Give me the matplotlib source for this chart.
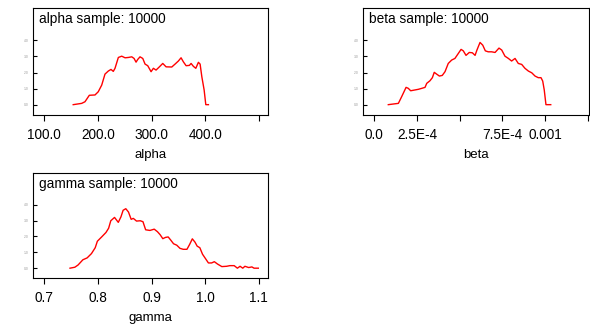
import matplotlib
matplotlib.use("Agg")
import matplotlib.pyplot as plt

plt.rcParams['font.family'] = ['Liberation Sans', 'DejaVu Sans']

# kernel density traces (x value, density in tick units)
alpha_x = [154, 169.8, 175.9, 184, 194.6, 200.7, 207.1, 213.2, 219.4, 224.4,
           228.7, 231.9, 238.1, 244.4, 250.6, 256.7, 263.1, 267.4, 271.1, 274.3,
           278.5, 283.6, 287.9, 292.9, 299.1, 303.4, 308.4, 314.6, 320.9, 327.1,
           337.7, 343.8, 350, 355, 359.3, 364.4, 370.5, 373.7, 378, 382.5,
           387.3, 390.5, 393.7, 398, 401.1, 406]
alpha_y = [0.02, 0.1, 0.2, 0.6, 0.62, 0.82, 1.23, 1.91, 2.1, 2.2,
           2.08, 2.27, 2.94, 3.02, 2.92, 2.94, 2.98, 2.88, 2.65, 2.82,
           2.98, 2.88, 2.53, 2.43, 2.06, 2.27, 2.16, 2.36, 2.57, 2.36,
           2.35, 2.53, 2.72, 2.92, 2.67, 2.43, 2.45, 2.57, 2.39, 2.27,
           2.64, 2.53, 1.75, 0.93, 0.02, 0.02]

beta_x = [8.2e-5, 1.11e-4, 1.41e-4, 1.60e-4, 1.86e-4, 1.99e-4, 2.13e-4, 2.38e-4,
          2.58e-4, 2.78e-4, 2.97e-4, 3.07e-4, 3.26e-4, 3.40e-4, 3.51e-4, 3.65e-4,
          3.81e-4, 3.98e-4, 4.14e-4, 4.33e-4, 4.53e-4, 4.72e-4, 4.92e-4, 5.08e-4,
          5.21e-4, 5.37e-4, 5.56e-4, 5.74e-4, 5.90e-4, 6.01e-4, 6.19e-4, 6.35e-4,
          6.50e-4, 6.67e-4, 6.87e-4, 7.07e-4, 7.30e-4, 7.46e-4, 7.65e-4, 7.85e-4,
          8.04e-4, 8.24e-4, 8.43e-4, 8.63e-4, 8.82e-4, 9.02e-4, 9.22e-4, 9.41e-4,
          9.60e-4, 9.76e-4, 9.86e-4, 9.95e-4, 1.005e-3, 1.033e-3]
beta_y = [0.02, 0.06, 0.1, 0.51, 1.09, 1.03, 0.88, 0.93,
          0.97, 1.03, 1.09, 1.34, 1.5, 1.69, 2.02, 1.91,
          1.79, 1.83, 2.06, 2.57, 2.78, 2.88, 3.19, 3.44,
          3.35, 3.07, 3.25, 3.23, 3.07, 3.4, 3.87, 3.7,
          3.35, 3.29, 3.29, 3.25, 3.52, 3.4, 3.02, 2.88,
          2.72, 2.88, 2.57, 2.51, 2.27, 2.1, 1.99, 1.79,
          1.69, 1.69, 1.48, 0.93, 0.02, 0.02]

gamma_x = [0.748, 0.757, 0.763, 0.772, 0.780, 0.788, 0.795, 0.799, 0.807, 0.815,
           0.820, 0.824, 0.831, 0.838, 0.843, 0.847, 0.852, 0.857, 0.862, 0.866,
           0.872, 0.879, 0.884, 0.889, 0.897, 0.905, 0.911, 0.916, 0.921, 0.926,
           0.931, 0.936, 0.941, 0.947, 0.953, 0.959, 0.966, 0.971, 0.976, 0.981,
           0.985, 0.990, 0.995, 1.000, 1.006, 1.012, 1.017, 1.023, 1.031, 1.040,
           1.046, 1.054, 1.060, 1.065, 1.070, 1.074, 1.081, 1.087, 1.091, 1.099]
gamma_y = [0.0, 0.06, 0.2, 0.53, 0.65, 0.92, 1.29, 1.7, 1.97, 2.25,
           2.52, 2.99, 3.2, 2.89, 3.24, 3.65, 3.75, 3.54, 3.08, 3.14,
           2.97, 2.99, 2.93, 2.42, 2.38, 2.46, 2.3, 2.11, 1.86, 1.94,
           1.97, 1.76, 1.54, 1.45, 1.25, 1.19, 1.19, 1.5, 1.85, 1.64,
           1.39, 1.29, 0.88, 0.63, 0.33, 0.33, 0.41, 0.26, 0.1, 0.12,
           0.16, 0.16, 0.0, 0.12, 0.0, 0.12, 0.04, 0.08, 0.0, 0.0]

alpha_ticks = [100, 200, 300, 400, 500]
alpha_labels = ['100.0', '200.0', '300.0', '400.0', '']
beta_ticks = [0.0, 2.5e-4, 5.0e-4, 7.5e-4, 1.0e-3, 1.25e-3]
beta_labels = ['0.0', '2.5E-4', '', '7.5E-4', '0.001', '']
gamma_ticks = [0.7, 0.8, 0.9, 1.0, 1.1]
gamma_labels = ['0.7', '0.8', '0.9', '1.0', '1.1']
density_ticks = [0, 1, 2, 3, 4]
density_labels = ['0.0', '1.0', '2.0', '3.0', '4.0']

fig = plt.figure(figsize=(5.9, 3.27), dpi=100)

panels = [
    ([0.0559, 0.6483, 0.3983, 0.3272], alpha_x, alpha_y, 'alpha', alpha_ticks, alpha_labels, (79, 517)),
    ([0.6153, 0.6483, 0.3830, 0.3272], beta_x, beta_y, 'beta', beta_ticks, beta_labels, (-6.6e-5, 1.257e-3)),
    ([0.0559, 0.1498, 0.3983, 0.3211], gamma_x, gamma_y, 'gamma', gamma_ticks, gamma_labels, (0.679, 1.117)),
]

for rect, xs, ys, name, ticks, labels, xlim in panels:
    ax = fig.add_axes(rect)
    ax.plot(xs, ys, color='#ff0000', lw=1.0)
    ax.set_xlim(*xlim)
    ax.set_ylim(-0.62, 6.0)
    ax.set_xticks(ticks)
    ax.set_xticklabels(labels, fontsize=9.8)
    ax.set_yticks(density_ticks)
    ax.set_yticklabels(density_labels, fontsize=2.4, color='#999999')
    ax.tick_params(axis='x', direction='out', length=4, width=0.8, pad=5)
    ax.tick_params(axis='y', direction='in', length=3, width=0.8, pad=3)
    for s in ax.spines.values():
        s.set_linewidth(0.8)
    ax.set_xlabel(name, fontsize=9.5, labelpad=5.5)
    ax.text(0.025, 0.96, name + ' sample: 10000', transform=ax.transAxes,
            fontsize=9.8, va='top', ha='left')

fig.savefig('out.png', dpi=100)
